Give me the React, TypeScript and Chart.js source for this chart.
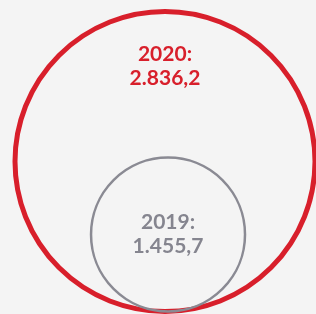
import React, { useEffect, useRef } from "react";
import { Chart, registerables } from "chart.js";

Chart.register(...registerables);

const years = ["2020", "2019"];
const values = [2836.2, 1455.7];
const valueLabels = ["2.836,2", "1.455,7"];
const xPositions = [0, 0.02];
const strokeColors = ["#d81f2b", "#8a8a93"];
const strokeWidths = [5, 2.5];
const labelColors = ["#d81f2b", "#85858f"];

const pixelRadius = (chart: any, v: number) => {
  const y = chart.scales && chart.scales.y;
  if (!y) return 0;
  return Math.abs(y.getPixelForValue(0) - y.getPixelForValue(v));
};

const labelPlugin = {
  id: "bubbleLabels",
  afterDatasetsDraw(chart: any) {
    const { ctx } = chart;
    const meta = chart.getDatasetMeta(0);
    ctx.save();
    ctx.font = "bold 21px Lato, 'Open Sans', sans-serif";
    ctx.textAlign = "center";
    ctx.textBaseline = "middle";
    meta.data.forEach((el: any, i: number) => {
      const r = pixelRadius(chart, values[i]);
      const cx = el.x;
      const cy = i === 0 ? el.y - r * 0.635 : el.y;
      ctx.fillStyle = labelColors[i];
      ctx.fillText(years[i] + ":", cx, cy - 12);
      ctx.fillText(valueLabels[i], cx, cy + 12);
    });
    ctx.restore();
  },
};

export default function App() {
  const ref = useRef<HTMLCanvasElement | null>(null);
  useEffect(() => {
    if (!ref.current) return;
    const chart = new Chart(ref.current, {
      type: "scatter",
      data: {
        datasets: [
          {
            data: values.map((v, i) => ({ x: xPositions[i], y: v })),
            showLine: false,
            pointBackgroundColor: "rgba(0,0,0,0)",
            pointBorderColor: strokeColors,
            pointBorderWidth: strokeWidths,
            pointStyle: "circle",
            clip: false,
            pointRadius: (ctx: any) =>
              ctx.dataIndex == null ? 0 : pixelRadius(ctx.chart, values[ctx.dataIndex]),
            pointHoverRadius: 0,
          } as any,
        ],
      },
      options: {
        animation: false,
        responsive: false,
        maintainAspectRatio: false,
        events: [],
        layout: { padding: { left: 14, right: 0, top: 11.5, bottom: 2.5 } },
        plugins: { legend: { display: false }, tooltip: { enabled: false } },
        scales: {
          x: { type: "linear", min: -1, max: 1, display: false },
          y: { type: "linear", min: 0, max: values[0] * 2, display: false },
        },
      },
      plugins: [labelPlugin],
    });
    return () => chart.destroy();
  }, []);
  return (
    <div
      style={{
        position: "fixed",
        left: 0,
        top: 0,
        width: 316,
        height: 314,
        background: "#f4f4f4",
      }}
    >
      <canvas ref={ref} width={316} height={314} style={{ display: "block" }} />
    </div>
  );
}
